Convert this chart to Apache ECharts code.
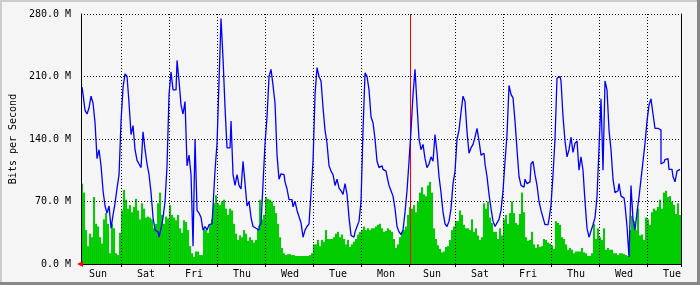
<!DOCTYPE html>
<html><head><meta charset="utf-8">
<script src="https://cdn.jsdelivr.net/npm/echarts@6/dist/echarts.min.js"></script>
<style>html,body{margin:0;padding:0;background:#f5f5f5}#c{width:700px;height:285px}</style>
</head><body><div id="c"></div>
<script>
// Day labels (newest on the left), in slots of 1 hour
const dayLabels = ['Sun','Sat','Fri','Thu','Wed','Tue','Mon','Sun','Sat','Fri','Thu','Wed','Tue'];
const dayLabelSlots = [8,32,56,80,104,128,152,175,199,223,247,271,295];
const midnightSlots = [20,44,68,92,116,140,164,187,211,235,259,283];
const weekStartSlot = 164;
const yMax = 280, yStep = 70;

// Incoming traffic (green), Mbit/s
const inTraffic = [
 90,80,38,20,34,30,75,45,42,30, 23,50,57,45,12,45,40,12,10,35, 60,83,72,62,66,58,64,73,60,50, 68,62,52,53,52,50,40,45,68,80, 55,45,53,51,66,55,52,49,55,40,
 35,49,47,38,20,12,8,14,14,10, 10,40,38,35,44,50,68,77,68,66, 70,72,62,55,62,60,45,34,27,32, 30,38,34,26,30,27,24,27,38,72, 50,55,75,73,72,70,65,57,45,30,
 18,12,10,11,11,10,10,9,9,9, 9,9,9,9,10,12,22,22,27,20, 27,25,38,28,28,28,30,34,36,30, 33,28,22,27,19,22,25,28,33,36, 38,42,38,40,38,40,40,42,44,45,
 40,36,37,40,38,36,28,18,22,30, 36,38,42,55,64,62,66,58,70,80, 86,78,76,88,92,80,40,28,21,17, 13,14,19,20,27,38,42,48,48,60, 55,44,40,40,38,50,36,40,32,27,
 30,68,62,70,52,46,36,36,28,40, 32,50,55,45,57,70,57,46,44,56, 80,58,30,26,27,36,22,18,22,19, 20,28,27,24,23,21,17,48,46,44, 30,28,22,16,18,16,12,14,14,14,
 18,13,12,9,9,12,45,28,40,30, 27,40,16,18,16,16,12,12,10,12, 12,11,10,9,38,54,48,38,62,32, 33,27,52,50,44,58,62,60,64,72, 62,80,82,75,76,70,66,56,68,55
];
// Outgoing traffic (blue), Mbit/s
const outTraffic = [
 198,190,172,168,175,188,180,158,118,128, 110,82,65,57,65,40,55,68,85,100, 160,198,213,210,180,145,155,128,116,112, 108,148,128,112,100,80,52,38,36,30, 40,52,70,110,190,215,195,195,228,205,
 178,168,182,110,122,100,20,140,60,57, 52,38,42,38,44,45,65,105,135,205, 275,230,175,130,130,160,100,88,100,88, 84,115,90,65,70,52,42,40,38,42, 45,90,135,165,210,218,200,180,122,95,
 101,100,92,84,72,72,64,70,60,53, 46,30,38,42,45,80,115,190,220,210, 205,175,150,135,110,104,100,88,95,85, 82,78,90,78,52,32,30,36,42,48, 70,150,214,210,195,165,158,140,115,108,
 110,106,104,98,88,82,76,62,42,36, 33,38,58,82,115,150,190,218,178,140, 128,134,118,108,112,120,115,145,125,98, 80,58,45,42,48,62,90,104,140,150, 170,188,182,148,124,130,134,142,152,138,
 122,124,112,98,78,62,48,42,46,50, 60,82,115,145,200,190,186,160,128,98, 88,86,95,90,92,112,115,100,88,70, 60,52,44,44,50,66,100,140,208,210, 205,165,138,120,128,142,125,135,138,105,
 120,105,70,40,30,37,44,52,75,130, 185,105,205,195,150,128,95,80,82,90, 76,74,66,42,8,88,50,38,58,75, 95,115,135,160,178,185,168,152,152,150, 112,114,117,118,106,106,98,92,104,106
];

const slots = inTraffic.map((_, i) => String(i));
const mono = 'DejaVu Sans Mono';
const chart = echarts.init(document.getElementById('c'), null, {renderer: 'canvas'});
chart.setOption({
  animation: false,
  backgroundColor: '#f5f5f5',
  graphic: [
    {type: 'rect', shape: {x: 0, y: 0, width: 700, height: 2}, style: {fill: '#cccccc'}, silent: true},
    {type: 'rect', shape: {x: 0, y: 0, width: 2, height: 285}, style: {fill: '#cccccc'}, silent: true},
    {type: 'rect', shape: {x: 0, y: 282, width: 700, height: 3}, style: {fill: '#888888'}, silent: true},
    {type: 'rect', shape: {x: 697, y: 0, width: 3, height: 285}, style: {fill: '#888888'}, silent: true}
  ],
  grid: {left: 81, top: 14, width: 600, height: 250, show: false},
  xAxis: [{
    type: 'category', data: slots, boundaryGap: true, z: 3,
    axisLine: {show: true, lineStyle: {color: '#000', width: 1}},
    axisTick: {show: true, length: 3, interval: (i) => midnightSlots.includes(i), lineStyle: {color: '#000'}},
    splitLine: {show: true, interval: (i) => midnightSlots.includes(i) && i !== weekStartSlot,
      lineStyle: {color: '#000', type: [1, 2], width: 1}},
    axisLabel: {interval: (i) => dayLabelSlots.includes(i),
      formatter: (v) => { const k = dayLabelSlots.indexOf(Number(v)); return k >= 0 ? dayLabels[k] : ''; },
      fontFamily: mono, fontSize: 10, color: '#000', margin: 5}
  }, {
    type: 'category', data: slots, position: 'top', z: 3,
    axisLine: {show: true, lineStyle: {color: '#000', width: 1}},
    axisTick: {show: false}, axisLabel: {show: false}, splitLine: {show: false}
  }],
  yAxis: [{
    type: 'value', min: 0, max: yMax, interval: yStep, position: 'left', z: 3,
    axisLine: {show: true, lineStyle: {color: '#000', width: 1}},
    axisTick: {show: false},
    splitLine: {show: true, lineStyle: {color: '#000', type: [1, 2], width: 1}},
    axisLabel: {formatter: (v) => v.toFixed(1) + ' M', fontFamily: mono, fontSize: 10, color: '#000', margin: 10},
    name: 'Bits per Second', nameLocation: 'middle', nameGap: 58, nameRotate: 90,
    nameTextStyle: {fontFamily: mono, fontSize: 10, color: '#000'}
  }, {
    type: 'value', min: 0, max: yMax, interval: yStep, position: 'right', z: 3,
    axisLine: {show: true, lineStyle: {color: '#000', width: 1}},
    axisTick: {show: false}, axisLabel: {show: false}, splitLine: {show: false}
  }],
  series: [{
    name: 'In', type: 'bar', data: inTraffic, xAxisIndex: 0, yAxisIndex: 0,
    barCategoryGap: '0%', itemStyle: {color: '#00cc00'}, z: 2,
    markPoint: {silent: true, symbol: 'triangle', symbolRotate: 90, symbolSize: 6, symbolOffset: [-2, 0],
      itemStyle: {color: '#ff0000'}, label: {show: false}, data: [{coord: ['0', 0]}]}
  }, {
    name: 'Out', type: 'line', data: outTraffic, xAxisIndex: 0, yAxisIndex: 0,
    step: 'middle', symbol: 'none', z: 5,
    lineStyle: {color: '#0000ff', width: 1.3},
    markLine: {silent: true, symbol: 'none', label: {show: false},
      lineStyle: {color: '#ff0000', type: 'solid', width: 1},
      data: [{xAxis: String(weekStartSlot)}]}
  }]
});
</script></body></html>
